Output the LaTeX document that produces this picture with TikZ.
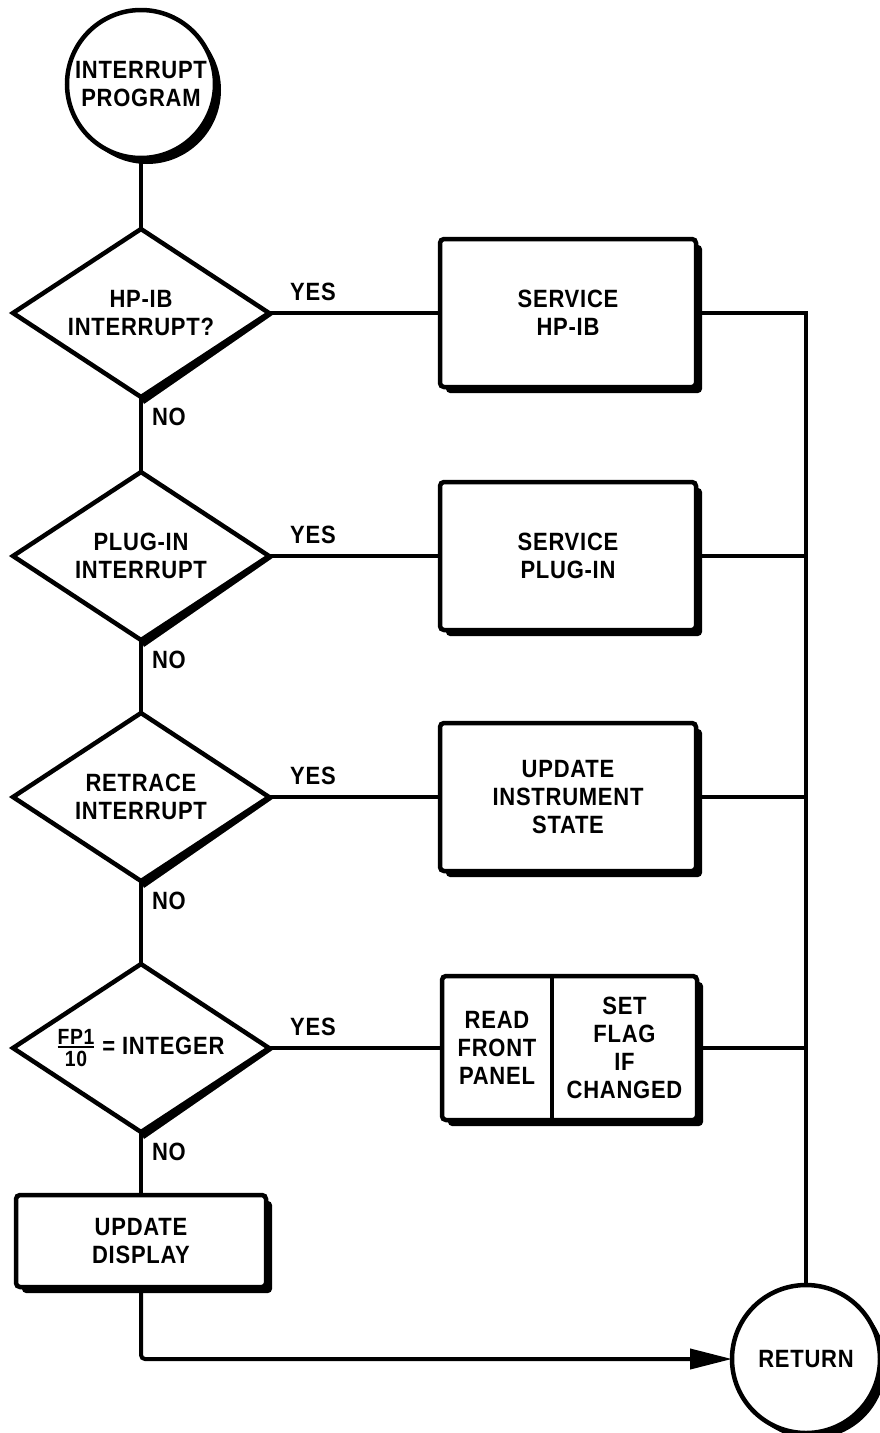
\documentclass[tikz,border=0pt]{standalone}
\usepackage{fontspec}
\setmainfont{Liberation Sans}[FakeStretch=0.88,LetterSpace=3]
\usetikzlibrary{shapes.geometric,shadows,arrows.meta,backgrounds,fit,calc}
\newcommand\fpfrac{\ensuremath{\vcenter{\hbox{\fontsize{22}{22}\selectfont\setbox0\hbox{FP1}\vbox{\copy0\kern1.5pt\hrule height 2.5pt\kern3pt\hbox to\wd0{\hss 10\hss}}}}}}
\tikzset{
  base/.style={font=\fontsize{25}{28}\selectfont\bfseries, align=center, inner sep=0pt, outer sep=0pt},
  shp/.style={base, draw, line width=4.5pt, fill=white},
  term/.style={shp, circle, minimum size=148pt, drop shadow={shadow xshift=6pt, shadow yshift=-6pt, fill=black, opacity=1}},
  decis/.style={shp, diamond, aspect=1.5, minimum width=256pt, minimum height=168pt},
  proc/.style={shp, rectangle, rounded corners=4pt, minimum width=256pt, minimum height=148pt, drop shadow={shadow xshift=6pt, shadow yshift=-6pt, fill=black, opacity=1}},
  conn/.style={line width=4pt},
  lbl/.style={base},
  dshade/.style={fill=black}
}
\begin{document}
\begin{tikzpicture}[x=1pt,y=-1pt]
\useasboundingbox (0,0) rectangle (879,1433);
% main column
\node[term] (start) at (141,84) {INTERRUPT\\PROGRAM};
\node[decis] (d1) at (141,313) {HP-IB\\INTERRUPT?};
\node[decis] (d2) at (141,556) {PLUG-IN\\INTERRUPT};
\node[decis] (d3) at (141,797) {RETRACE\\INTERRUPT};
\node[decis] (d4) at (141,1048) {\fpfrac\hspace{8pt}= INTEGER};
\node[proc, minimum width=250pt, minimum height=92pt] (b5) at (141,1241) {UPDATE\\DISPLAY};
% process boxes
\node[proc] (b1) at (568,313) {SERVICE\\HP-IB};
\node[proc] (b2) at (568,556) {SERVICE\\PLUG-IN};
\node[proc] (b3) at (568,797) {UPDATE\\INSTRUMENT\\STATE};
\node[base, minimum width=110pt, minimum height=144pt] (b4a) at (497,1048) {READ\\FRONT\\PANEL};
\node[base, minimum width=145pt, minimum height=144pt] (b4b) at (624.5,1048) {SET\\FLAG\\IF\\CHANGED};
\begin{scope}[on background layer]
\node[proc, fit=(b4a)(b4b), minimum width=0pt, minimum height=0pt] (b4) {};
\end{scope}
\draw[line width=4.5pt] (b4a.north east) -- (b4a.south east);
\node[term] (ret) at (806,1359) {RETURN};
% diamond shading
\foreach \i in {1,2,3,4}{
  \fill[dshade] (d\i.east) -- (d\i.south) -- ++(3,7) -- ($(d\i.east)+(5,1)$) -- cycle;
}
% spine
\draw[conn] (start.south) -- (d1.north);
\draw[conn] (d1.south) -- (d2.north);
\draw[conn] (d2.south) -- (d3.north);
\draw[conn] (d3.south) -- (d4.north);
\draw[conn] (d4.south) -- (b5.north);
\draw[conn, rounded corners=4pt, -{Triangle[length=42pt,width=20pt]}] (b5.south) |- (ret.west);
% branches
\foreach \i in {1,2,3,4}{
  \draw[conn] (d\i.east) -- (b\i.west);
}
\draw[conn] (b1.east) -| (ret.north);
\foreach \i in {2,3,4}{
  \draw[conn] (b\i.east) -- (b\i.east -| ret.north);
}
% labels
\foreach \i in {1,2,3,4}{
  \node[lbl] (y\i) at ($(d\i.east)+(44,-21)$) {YES};
  \node[lbl, anchor=west] (n\i) at ($(d\i.south)+(11,20)$) {NO};
}
\end{tikzpicture}
\end{document}
